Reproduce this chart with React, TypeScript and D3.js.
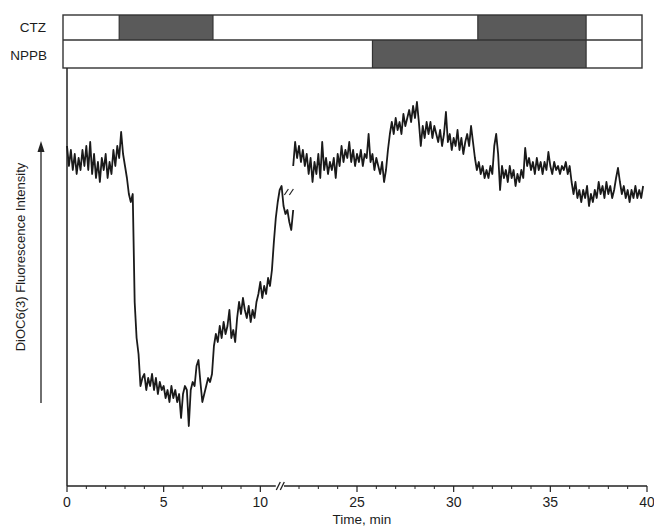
import React from "react";
import * as d3 from "d3";

// ---- data (arbitrary fluorescence units, sampled every 0.1 min) ----
const segAStart = 0.0; // min
const segAValues = [
  85, 80, 84, 79, 83, 78, 82, 79, 84, 80,
  85, 79, 86, 78, 83, 77, 81, 76, 82, 79,
  83, 77, 81, 78, 84, 80, 85, 82, 88.5, 83,
  80, 77, 73, 71, 73, 46, 37, 33, 25, 27,
  28, 24, 27, 25, 28, 24, 27, 23, 26, 24,
  25, 22, 24, 21, 25, 22, 24, 21, 23, 17,
  23, 25, 24, 15, 24, 26, 25, 30, 31.5, 26,
  21, 23, 25, 27, 26, 28, 35, 38, 36, 40,
  37, 41, 38, 40, 44, 37, 39, 36, 42, 46,
  43, 47, 44, 42, 45, 41, 44, 42, 46, 48,
  51, 47, 50, 48, 52, 50, 54, 61, 67, 71,
  74, 75, 70, 68, 69, 66, 64, 69,
];
const segBStart = 21.7; // min
const segBValues = [
  80, 86, 82, 85, 81, 84, 80, 83, 78, 82,
  76, 81, 78, 83, 77, 86, 79, 82, 78, 81,
  79, 82, 77, 83, 80, 85, 81, 84, 82, 86,
  81, 84, 80, 83, 81, 84, 80, 83, 82, 88,
  81, 83, 79, 82, 80, 78, 81, 76, 79, 84,
  88, 91, 88, 92, 89, 91, 88, 93, 90, 92,
  94, 91, 95, 92, 96, 91, 85, 90, 87, 91,
  88, 91, 87, 90, 88, 86, 89, 85, 88, 93.5,
  86, 88, 84, 87, 85, 89, 84, 87, 83, 86,
  88, 85, 90, 86, 82, 79, 81, 78, 80, 77,
  79, 77, 80, 78, 85, 88, 83, 74, 80, 77,
  79, 76, 80, 77, 79, 75, 78, 76, 79, 77,
  84.5, 80, 82, 79, 81, 78, 82, 79, 81, 78,
  81, 79, 83.5, 80, 78, 81, 79, 80, 78, 80,
  79, 81, 78, 80, 76, 73, 76, 72, 74, 71,
  74, 72, 75, 70, 73, 71, 74, 72, 76, 73,
  75, 72, 76, 73, 75, 72, 74, 77, 79.5, 76,
  73, 75, 72, 74, 71, 74, 72, 75, 72, 74,
  72, 75,
];
const sampleStep = 0.1;

const ctzPeriods: [number, number][] = [
  [2.7, 7.55],
  [31.25, 36.85],
];
const nppbPeriods: [number, number][] = [[25.8, 36.85]];

const majorTicksA = [0, 5, 10];
const minorTicksA = [1, 2, 3, 4, 6, 7, 8, 9];
const majorTicksB = [25, 30, 35, 40];
const minorTicksB = [22, 23, 24, 26, 27, 28, 29, 31, 32, 33, 34, 36, 37, 38, 39];

const FONT = "'Liberation Sans', Arial, Helvetica, sans-serif";

export default function App() {
  const W = 654;
  const H = 527;
  const axisY = 486;
  const axisX = 67;

  const x = d3
    .scaleLinear()
    .domain([0, 11.7, 21.7, 40])
    .range([67, 293.2, 293.2, 647]);
  const y = d3.scaleLinear().domain([0, 100]).range([axisY, 86]);

  const ptsA = segAValues.map((v, i) => [segAStart + i * sampleStep, v] as [number, number]);
  const ptsB = segBValues.map((v, i) => [segBStart + i * sampleStep, v] as [number, number]);
  const line = d3
    .line<[number, number]>()
    .x((d) => x(d[0]))
    .y((d) => y(d[1]));

  const boxL = 63;
  const boxR = 642;
  const rowTop = 15;
  const rowMid = 40;
  const rowBot = 68;

  const breakA = x(10.8);
  const breakB = 284;
  const lineCol = "#222";
  const textCol = "#1c1c1c";

  // data break marks position
  const dbx = x(11.45);
  const dby = y(73.5);

  return (
    <svg
      width={W}
      height={H}
      style={{ position: "absolute", left: 0, top: 0, background: "#fff" }}
      fontFamily={FONT}
    >
      <rect x={0} y={0} width={W} height={H} fill="#fff" />
      {/* treatment bars */}
      {ctzPeriods.map(([a, b], i) => (
        <rect key={"c" + i} x={x(a)} y={rowTop} width={x(b) - x(a)} height={rowMid - rowTop} fill="#5a5a5a" />
      ))}
      {nppbPeriods.map(([a, b], i) => (
        <rect key={"n" + i} x={x(a)} y={rowMid} width={x(b) - x(a)} height={rowBot - rowMid} fill="#5a5a5a" />
      ))}
      <rect x={boxL} y={rowTop} width={boxR - boxL} height={rowBot - rowTop} fill="none" stroke="#333" strokeWidth={1.4} />
      <line x1={boxL} x2={boxR} y1={rowMid} y2={rowMid} stroke="#333" strokeWidth={1.4} />
      {ctzPeriods.map(([a, b], i) => (
        <g key={"cl" + i}>
          <line x1={x(a)} x2={x(a)} y1={rowTop} y2={rowMid} stroke="#333" strokeWidth={1.2} />
          <line x1={x(b)} x2={x(b)} y1={rowTop} y2={rowMid} stroke="#333" strokeWidth={1.2} />
        </g>
      ))}
      {nppbPeriods.map(([a, b], i) => (
        <g key={"nl" + i}>
          <line x1={x(a)} x2={x(a)} y1={rowMid} y2={rowBot} stroke="#333" strokeWidth={1.2} />
          <line x1={x(b)} x2={x(b)} y1={rowMid} y2={rowBot} stroke="#333" strokeWidth={1.2} />
        </g>
      ))}
      <text x={46} y={32} textAnchor="end" fontSize={13.5} fill={textCol}>CTZ</text>
      <text x={47} y={60} textAnchor="end" fontSize={13.5} fill={textCol}>NPPB</text>

      {/* y axis */}
      <line x1={axisX} x2={axisX} y1={rowBot} y2={axisY} stroke={lineCol} strokeWidth={1.5} />
      {/* x axis */}
      <line x1={axisX} x2={breakA} y1={axisY} y2={axisY} stroke={lineCol} strokeWidth={1.5} />
      <line x1={breakB} x2={x(40)} y1={axisY} y2={axisY} stroke={lineCol} strokeWidth={1.5} />
      <line x1={breakA + 0.5} x2={breakA + 4.5} y1={axisY + 4} y2={axisY - 4} stroke={lineCol} strokeWidth={1.3} />
      <line x1={breakA + 4.5} x2={breakA + 8.5} y1={axisY + 4} y2={axisY - 4} stroke={lineCol} strokeWidth={1.3} />
      {[...majorTicksA, ...majorTicksB].map((t) => (
        <g key={"M" + t}>
          <line x1={x(t)} x2={x(t)} y1={axisY} y2={axisY + 6} stroke={lineCol} strokeWidth={1.2} />
          <text x={x(t)} y={507} textAnchor="middle" fontSize={14} fill={textCol}>{t}</text>
        </g>
      ))}
      {[...minorTicksA, ...minorTicksB].map((t) => (
        <line key={"m" + t} x1={x(t)} x2={x(t)} y1={axisY} y2={axisY + 3} stroke={lineCol} strokeWidth={1} />
      ))}
      <text x={362} y={524} textAnchor="middle" fontSize={13.5} fill={textCol}>Time, min</text>

      {/* y label + arrow */}
      <text
        transform={`translate(25, 257) rotate(-90)`}
        textAnchor="middle"
        fontSize={13}
        fill={textCol}
      >
        DiOC6(3) Fluorescence Intensity
      </text>
      <line x1={41} x2={41} y1={150} y2={403} stroke={lineCol} strokeWidth={1.3} />
      <path d="M41,141 L37.5,152 L44.5,152 Z" fill={lineCol} />

      {/* trace */}
      <path d={line(ptsA) || ""} fill="none" stroke="#1a1a1a" strokeWidth={1.8} strokeLinejoin="round" />
      <path d={line(ptsB) || ""} fill="none" stroke="#1a1a1a" strokeWidth={1.8} strokeLinejoin="round" />
      <line x1={dbx - 4} x2={dbx} y1={dby + 3} y2={dby - 3} stroke={lineCol} strokeWidth={1.2} />
      <line x1={dbx + 1} x2={dbx + 5} y1={dby + 3} y2={dby - 3} stroke={lineCol} strokeWidth={1.2} />
    </svg>
  );
}
